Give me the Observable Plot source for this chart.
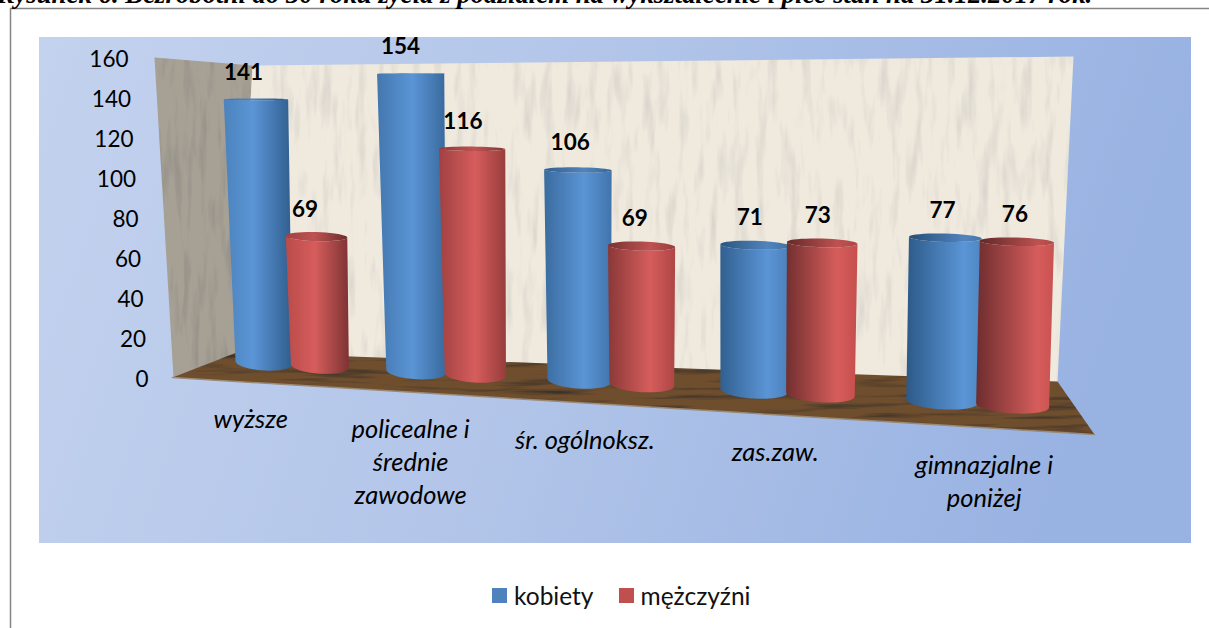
<!DOCTYPE html>
<html lang="pl">
<head>
<meta charset="utf-8">
<script src="https://cdn.jsdelivr.net/npm/d3@7"></script>
<script src="https://cdn.jsdelivr.net/npm/@observablehq/plot@0.6"></script>
<style>
html,body{margin:0;padding:0;background:#fff;overflow:hidden;width:1209px;height:628px}
#wrap{position:relative;width:1209px;height:628px;overflow:hidden}
#wrap svg{position:absolute;left:0;top:0;display:block}
#title{position:absolute;left:-3px;top:-21px;line-height:30px;white-space:nowrap;font-family:"Liberation Serif",serif;font-style:italic;font-weight:bold;font-size:26.8px;color:#000}
#legend{position:absolute;left:492px;top:580px;height:30px;display:flex;align-items:center;font:24.5px Lato,"Open Sans",sans-serif;color:#111}
#legend i{display:inline-block;width:15px;height:15px;margin-right:7px}
#legend span{margin-right:25px;display:flex;align-items:center}
</style>
</head>
<body>
<div id="wrap"><div id="title"></div><div id="legend"></div></div>
<script>
const titleText = "Rysunek 6. Bezrobotni do 30 roku życia z podziałem na wykształcenie i płeć stan na 31.12.2017 rok.";
const categories = [["wyższe"], ["policealne i", "średnie", "zawodowe"], ["śr. ogólnoksz."], ["zas.zaw."], ["gimnazjalne i", "poniżej"]];
const kobiety = [141, 154, 106, 71, 77];
const mezczyzni = [69, 116, 69, 73, 76];
const seriesNames = ["kobiety", "mężczyźni"];
const seriesColors = ["#4f81bd", "#c0504d"];
const yTicks = [0, 20, 40, 60, 80, 100, 120, 140, 160];

const W = 1209, H = 628, V_MAX = 160;

// perspective mapping from the unit square to a quadrilateral
function quad(p0, p1, p2, p3) {
  const [x0,y0]=p0,[x1,y1]=p1,[x2,y2]=p2,[x3,y3]=p3;
  const dx1=x1-x2,dx2=x3-x2,sx=x0-x1+x2-x3,dy1=y1-y2,dy2=y3-y2,sy=y0-y1+y2-y3;
  const den=dx1*dy2-dx2*dy1, g=(sx*dy2-dx2*sy)/den, h=(dx1*sy-sx*dy1)/den;
  const a=x1-x0+g*x1,b=x3-x0+h*x3,d=y1-y0+g*y1,e=y3-y0+h*y3;
  return (u,v)=>{const w=g*u+h*v+1;return [(a*u+b*v+x0)/w,(d*u+e*v+y0)/w];};
}
const barPlane = quad([220,359.5],[1075,408.5],[1086,55],[210,63]);
const labelPlane = quad([175,377],[1096,434],[1096,59],[175,77]);
const P = (u,val)=>barPlane(u,val/V_MAX);
const lerp=(a,b,t)=>a+(b-a)*t;

const bars=[];
categories.forEach((c,g)=>{
  [kobiety,mezczyzni].forEach((vals,s)=>{
    const raw=(g+0.5)/5;
    const off=s===0?-lerp(0.041,0.034,raw):lerp(0.035,0.0375,raw);
    bars.push({g,s,value:vals[g],u:raw+off,id:`b${g}${s}`});
  });
});
const ry=v=>8*(1-v/V_MAX);
const radius=(u,v)=>lerp(0.039,0.0365,u)*(1+(1-u)*(v/141)*0.12);
const arc=(u,v,a0,a1,n=40)=>d3.range(n+1).map(i=>{
  const t=lerp(a0,a1,i/n),[x,y]=P(u+radius(u,v)*Math.cos(t),v);
  return {x,y:y+ry(v)*Math.sin(t)};
});
const body=b=>[...arc(b.u,0,0,Math.PI),...arc(b.u,b.value,Math.PI,0)];
const cap=b=>arc(b.u,b.value,0,2*Math.PI);

function poly(points,opts){return Plot.line(points,{x:"x",y:"y",stroke:"none",curve:"linear",...opts});}
const pts=a=>a.map(([x,y])=>({x,y}));

function defs(){
  const svg=d3.create("svg:defs");
  const bg=svg.append("linearGradient").attr("id","panel").attr("x1",0).attr("x2",1).attr("y1",0).attr("y2",0.15);
  [[0,"#c3d2ee"],[0.5,"#b2c5e9"],[1,"#98b2e2"]].forEach(([o,c])=>bg.append("stop").attr("offset",o).attr("stop-color",c));
  bars.forEach(b=>{
    const pal=b.s===0
      ?{edgeA:"#4f86c2",edgeB:"#2c5a88",hi:"#5b95d6"}
      :{edgeA:"#c9514f",edgeB:"#6e2d2e",hi:"#d65d5c"};
    const t=Math.min(1,b.u*1.3);
    const lc=d3.interpolateRgb(pal.edgeA,pal.edgeB)(t), rc=d3.interpolateRgb(pal.edgeB,pal.edgeA)(t);
    const peak=lerp(0.4,0.82,b.u);
    [["",0],["t",0.35]].forEach(([sfx,k])=>{
      const gr=svg.append("linearGradient").attr("id",b.id+sfx);
      [[0,lc],[peak,pal.hi],[1,rc]].forEach(([o,c])=>gr.append("stop").attr("offset",o).attr("stop-color",d3.rgb(c).darker(k).formatRgb()));
    });
  });
  const tex=(id,freq,seed,tv,amt)=>{
    const f=svg.append("filter").attr("id",id).attr("x","0").attr("y","0").attr("width","100%").attr("height","100%").attr("color-interpolation-filters","sRGB");
    f.append("feTurbulence").attr("type","fractalNoise").attr("baseFrequency",freq).attr("numOctaves",3).attr("seed",seed).attr("result","n");
    f.append("feColorMatrix").attr("in","n").attr("type","matrix")
      .attr("values",`0 0 0 0 ${tv} 0 0 0 0 ${tv} 0 0 0 0 ${tv} ${amt} 0 0 0 ${-amt*0.5}`).attr("result","c");
    f.append("feComposite").attr("in","c").attr("in2","SourceGraphic").attr("operator","in").attr("result","m");
    f.append("feMerge").call(s=>{s.append("feMergeNode").attr("in","SourceGraphic");s.append("feMergeNode").attr("in","m");});
  };
  tex("wallTex","0.09 0.015",4,0.55,0.55);
  tex("sideTex","0.12 0.015",7,0.35,0.6);
  tex("floorTex","0.01 0.16",9,0.15,2.0);
  return svg.node();
}

const backWall=[[252,65],[1073,56],[1057,382],[237,352]];
const sideWall=[[154,57],[252,65],[236,352],[173,377]];
const floorPoly=[[172,377],[236,352],[1057,381],[1094,434]];

const axisPoint=v=>[lerp(148,128,v/V_MAX),lerp(379,59,v/V_MAX)];

const labelRows=categories.flatMap((lines,g)=>{
  const [x,y]=labelPlane((g+0.5)/5,0);
  return lines.map((t,i)=>({t,x,y:y+38+i*33}));
});

const valueLabels=bars.map(b=>{
  const [x,y]=P(b.u,b.value);
  return {t:b.value,x:x+lerp(-13,-1,b.u),y:y-27};
});

const plot=Plot.plot({
  width:W,height:H,margin:0,
  x:{type:"identity",axis:null},
  y:{type:"identity",axis:null},
  marks:[
    defs,
    Plot.rect([{}],{x1:()=>39,x2:()=>1191,y1:()=>37,y2:()=>543,fill:"url(#panel)"}),
    Plot.ruleX([10],{y1:8,y2:H,stroke:"#858585",strokeWidth:1.5}),
    Plot.ruleY([8],{x1:10,x2:W,stroke:"#858585",strokeWidth:1.5}),
    poly(pts(sideWall),{fill:"#a6a095",imageFilter:"url(#sideTex)"}),
    poly(pts(backWall),{fill:"#efe9de",imageFilter:"url(#wallTex)"}),
    poly(pts(floorPoly),{fill:"#6f4e2e",imageFilter:"url(#floorTex)"}),
    Plot.line(pts([floorPoly[0],floorPoly[3]]),{x:"x",y:"y",stroke:"#9a8a76",strokeWidth:1.5}),
    ...bars.flatMap(b=>[
      poly(body(b),{fill:`url(#${b.id})`}),
      poly(cap(b),{fill:`url(#${b.id}t)`})
    ]),
    Plot.text(yTicks,{x:d=>axisPoint(d)[0],y:d=>axisPoint(d)[1],text:d=>String(d),textAnchor:"end",fontSize:22.5,fontFamily:"Lato",fill:"#000"}),
    Plot.text(valueLabels,{x:"x",y:"y",text:d=>String(d.t),fontSize:22.5,fontWeight:700,fontFamily:"Lato",fill:"#000"}),
    Plot.text(labelRows,{x:"x",y:"y",text:"t",fontSize:25.5,fontStyle:"italic",fontFamily:"Lato",fill:"#000"})
  ]
});
document.getElementById("wrap").prepend(plot);
const titleEl=document.getElementById("title");
titleEl.textContent=titleText;
const leg=document.getElementById("legend");
seriesNames.forEach((n,i)=>{
  const s=document.createElement("span");
  const sw=document.createElement("i");sw.style.background=seriesColors[i];
  s.append(sw,document.createTextNode(n));leg.append(s);
});
</script>
</body>
</html>
